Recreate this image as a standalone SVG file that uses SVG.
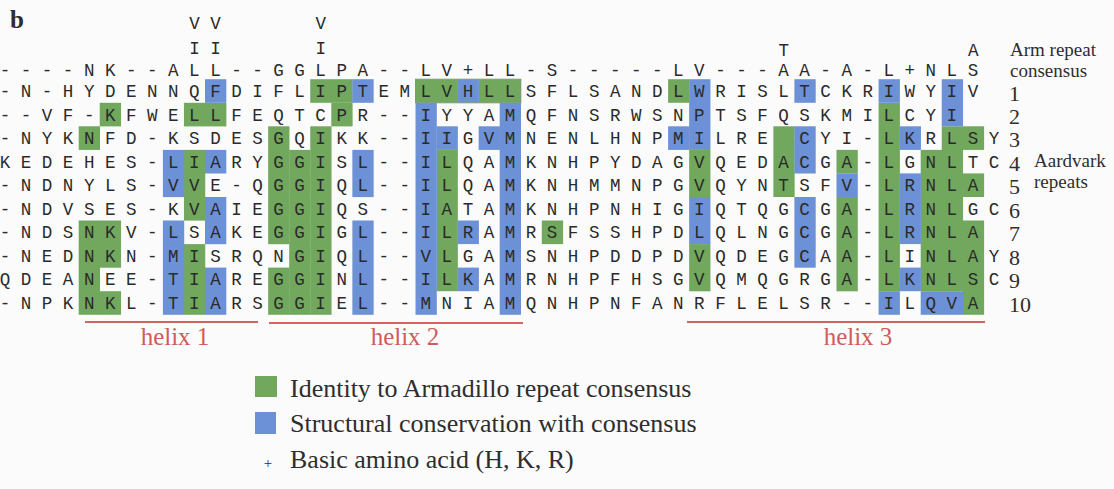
<svg xmlns="http://www.w3.org/2000/svg" width="1114" height="489" viewBox="0 0 1114 489">
  <style>
    .seq { font-family: "Liberation Mono", "DejaVu Sans Mono", monospace; font-size: 17.54px; fill: #2a2a2a; }
    .mark { font-family: "Liberation Mono", "DejaVu Sans Mono", monospace; font-size: 17.54px; fill: #2a2a2a; text-anchor: middle; }
    .serif { font-family: "Liberation Serif", "Times New Roman", serif; fill: #2e2e2e; }
    .num { font-family: "Liberation Serif", "Times New Roman", serif; font-size: 22px; fill: #2e2e2e; }
    .helix { font-family: "Liberation Serif", "Times New Roman", serif; font-size: 25px; fill: #cf5c5c; text-anchor: middle; }
    .g { fill: #71a85d; }
    .b { fill: #6d91d6; }
    .hline { stroke: #d46464; stroke-width: 2; fill: none; }
  </style>
  <rect width="1114" height="489" fill="#fbfbfb"/>

  <!-- panel letter -->
  <text x="10" y="28" class="serif" font-size="25" font-weight="bold" fill="#222">b</text>

  <!-- shading: columns are 21.05 px wide (left edge = -5.5 + 21.05*i), rows are 23.55 px tall -->
  <g id="identity-shading">
    <rect class="g" x="78.7" y="126.3" width="21.3" height="23.6"/>
    <rect class="g" x="78.7" y="220.5" width="21.3" height="94.3"/>
    <rect class="g" x="99.75" y="102.8" width="21.3" height="23.6"/>
    <rect class="g" x="99.75" y="220.5" width="21.3" height="47.2"/>
    <rect class="g" x="99.75" y="291.2" width="21.3" height="23.6"/>
    <rect class="g" x="183.95" y="102.8" width="42.4" height="23.6"/>
    <rect class="g" x="183.95" y="149.9" width="21.3" height="70.7"/>
    <rect class="g" x="183.95" y="244.1" width="21.3" height="70.7"/>
    <rect class="g" x="268.15" y="126.3" width="21.3" height="117.9"/>
    <rect class="g" x="268.15" y="267.6" width="21.3" height="47.2"/>
    <rect class="g" x="289.2" y="149.9" width="21.3" height="164.9"/>
    <rect class="g" x="310.25" y="79.2" width="42.4" height="23.6"/>
    <rect class="g" x="331.3" y="102.8" width="21.3" height="23.6"/>
    <rect class="g" x="310.25" y="126.3" width="21.3" height="188.5"/>
    <rect class="g" x="415.5" y="79.2" width="42.4" height="23.6"/>
    <rect class="g" x="478.65" y="79.2" width="42.4" height="23.6"/>
    <rect class="g" x="436.55" y="149.9" width="21.3" height="141.3"/>
    <rect class="g" x="541.8" y="220.5" width="21.3" height="23.6"/>
    <rect class="g" x="668.1" y="79.2" width="21.3" height="23.6"/>
    <rect class="g" x="689.15" y="149.9" width="21.3" height="47.2"/>
    <rect class="g" x="689.15" y="244.1" width="21.3" height="47.2"/>
    <rect class="g" x="773.35" y="126.3" width="21.3" height="70.7"/>
    <rect class="g" x="836.5" y="149.9" width="21.3" height="23.6"/>
    <rect class="g" x="836.5" y="197.0" width="21.3" height="94.3"/>
    <rect class="g" x="878.6" y="102.8" width="21.3" height="188.5"/>
    <rect class="g" x="920.7" y="149.9" width="21.3" height="141.3"/>
    <rect class="g" x="941.75" y="126.3" width="21.3" height="164.9"/>
    <rect class="g" x="962.8" y="126.3" width="21.3" height="23.6"/>
    <rect class="g" x="962.8" y="173.4" width="21.3" height="23.6"/>
    <rect class="g" x="962.8" y="220.5" width="21.3" height="94.3"/>
  </g>

  <g id="structural-shading">
    <rect class="b" x="162.9" y="149.9" width="21.3" height="47.2"/>
    <rect class="b" x="162.9" y="220.5" width="21.3" height="94.3"/>
    <rect class="b" x="205.0" y="79.2" width="21.3" height="23.6"/>
    <rect class="b" x="205.0" y="149.9" width="21.3" height="23.6"/>
    <rect class="b" x="205.0" y="197.0" width="21.3" height="47.2"/>
    <rect class="b" x="205.0" y="267.6" width="21.3" height="47.2"/>
    <rect class="b" x="352.35" y="79.2" width="21.3" height="23.6"/>
    <rect class="b" x="352.35" y="149.9" width="21.3" height="47.2"/>
    <rect class="b" x="352.35" y="220.5" width="21.3" height="94.3"/>
    <rect class="b" x="415.5" y="102.8" width="21.3" height="212.0"/>
    <rect class="b" x="436.55" y="126.3" width="21.3" height="23.6"/>
    <rect class="b" x="457.6" y="79.2" width="21.3" height="23.6"/>
    <rect class="b" x="457.6" y="220.5" width="21.3" height="23.6"/>
    <rect class="b" x="457.6" y="267.6" width="21.3" height="23.6"/>
    <rect class="b" x="478.65" y="126.3" width="21.3" height="23.6"/>
    <rect class="b" x="499.7" y="102.8" width="21.3" height="212.0"/>
    <rect class="b" x="668.1" y="126.3" width="21.3" height="23.6"/>
    <rect class="b" x="689.15" y="79.2" width="21.3" height="70.7"/>
    <rect class="b" x="689.15" y="197.0" width="21.3" height="47.2"/>
    <rect class="b" x="794.4" y="79.2" width="21.3" height="23.6"/>
    <rect class="b" x="794.4" y="126.3" width="21.3" height="47.2"/>
    <rect class="b" x="794.4" y="197.0" width="21.3" height="70.7"/>
    <rect class="b" x="836.5" y="173.4" width="21.3" height="23.6"/>
    <rect class="b" x="878.6" y="79.2" width="21.3" height="23.6"/>
    <rect class="b" x="878.6" y="291.2" width="21.3" height="23.6"/>
    <rect class="b" x="899.65" y="126.3" width="21.3" height="23.6"/>
    <rect class="b" x="899.65" y="173.4" width="21.3" height="70.7"/>
    <rect class="b" x="899.65" y="267.6" width="21.3" height="23.6"/>
    <rect class="b" x="920.7" y="291.2" width="42.4" height="23.6"/>
    <rect class="b" x="941.75" y="79.2" width="21.3" height="47.1"/>
    <!-- frame round the first-repeat box of helix 2 -->
    <rect x="415.5" y="79.2" width="105.3" height="23.6" fill="none" stroke="#7f9b78" stroke-width="1"/>
  </g>

  <!-- variant residues above the consensus -->
  <g id="consensus-variants">
    <text class="mark" x="194.45" y="29">V</text>
    <text class="mark" x="215.5" y="29">V</text>
    <text class="mark" x="320.75" y="29">V</text>
    <text class="mark" x="194.45" y="54">I</text>
    <text class="mark" x="215.5" y="54">I</text>
    <text class="mark" x="320.75" y="54">I</text>
    <text class="mark" x="783.85" y="56">T</text>
    <text class="mark" x="973.3" y="56">A</text>
  </g>

  <!-- alignment rows: one character per 21.05 px column -->
  <g id="alignment">
    <text class="seq" x="-0.26" y="76">- - - - N K - - A L L - - G G L P A - - L V + L L - S - - - - - L V - - - A A - A - L + N L S</text>
    <text class="seq" x="-0.26" y="97">- N - H Y D E N N Q F D I F L I P T E M L V H L L S F L S A N D L W R I S L T C K R I W Y I V</text>
    <text class="seq" x="-0.26" y="120.6">- - V F - K F W E L L F E Q T C P R - - I Y Y A M Q F N S R W S N P T S F Q S K M I L C Y I</text>
    <text class="seq" x="-0.26" y="144.1">- N Y K N F D - K S D E S G Q I K K - - I I G V M N E N L H N P M I L R E &#160; C Y I - L K R L S Y</text>
    <text class="seq" x="-0.26" y="167.7">K E D E H E S - L I A R Y G G I S L - - I L Q A M K N H P Y D A G V Q E D A C G A - L G N L T C</text>
    <text class="seq" x="-0.26" y="191.2">- N D N Y L S - V V E - Q G G I Q L - - I L Q A M K N H M M N P G V Q Y N T S F V - L R N L A</text>
    <text class="seq" x="-0.26" y="214.8">- N D V S E S - K V A I E G G I Q S - - I A T A M K N H P N H I G I Q T Q G C G A - L R N L G C</text>
    <text class="seq" x="-0.26" y="238.3">- N D S N K V - L S A K E G G I G L - - I L R A M R S F S S H P D L Q L N G C G A - L R N L A</text>
    <text class="seq" x="-0.26" y="261.9">- N E D N K N - M I S R Q N G I Q L - - V L G A M S N H P D D P D V Q D E G C A A - L I N L A Y</text>
    <text class="seq" x="-0.26" y="285.4">Q D E A N E E - T I A R E G G I N L - - I L K A M R N H P F H S G V Q M Q G R G A - L K N L S C</text>
    <text class="seq" x="-0.26" y="309">- N P K N K L - T I A R S G G I E L - - M N I A M Q N H P N F A N R F L E L S R - - I L Q V A</text>
  </g>

  <!-- row labels -->
  <g id="row-labels">
    <text class="serif" x="1010" y="56" font-size="19">Arm repeat</text>
    <text class="serif" x="1010" y="77" font-size="19">consensus</text>
    <text class="num" x="1009" y="101">1</text>
    <text class="num" x="1009" y="123.6">2</text>
    <text class="num" x="1009" y="147.1">3</text>
    <text class="num" x="1009" y="170.7">4</text>
    <text class="num" x="1009" y="194.2">5</text>
    <text class="num" x="1009" y="217.8">6</text>
    <text class="num" x="1009" y="241.3">7</text>
    <text class="num" x="1009" y="264.9">8</text>
    <text class="num" x="1009" y="288.4">9</text>
    <text class="num" x="1009" y="312">10</text>
    <text class="serif" x="1034" y="167" font-size="19">Aardvark</text>
    <text class="serif" x="1034" y="188" font-size="19">repeats</text>
  </g>

  <!-- helix spans -->
  <g id="helices">
    <line class="hline" x1="85" y1="322" x2="258" y2="322"/>
    <line class="hline" x1="269" y1="323" x2="523" y2="323"/>
    <line class="hline" x1="687" y1="322" x2="985" y2="322"/>
    <text class="helix" x="175" y="345">helix 1</text>
    <text class="helix" x="405" y="345">helix 2</text>
    <text class="helix" x="858" y="345">helix 3</text>
  </g>

  <!-- key -->
  <g id="legend">
    <rect class="g" x="255" y="376" width="22" height="21"/>
    <text class="serif" x="290" y="397" font-size="26">Identity to Armadillo repeat consensus</text>
    <rect class="b" x="255" y="412" width="21" height="22"/>
    <text class="serif" x="290" y="432" font-size="26">Structural conservation with consensus</text>
    <text class="serif" x="268" y="468" font-size="15" text-anchor="middle">+</text>
    <text class="serif" x="290" y="468" font-size="26">Basic amino acid (H, K, R)</text>
  </g>
</svg>
